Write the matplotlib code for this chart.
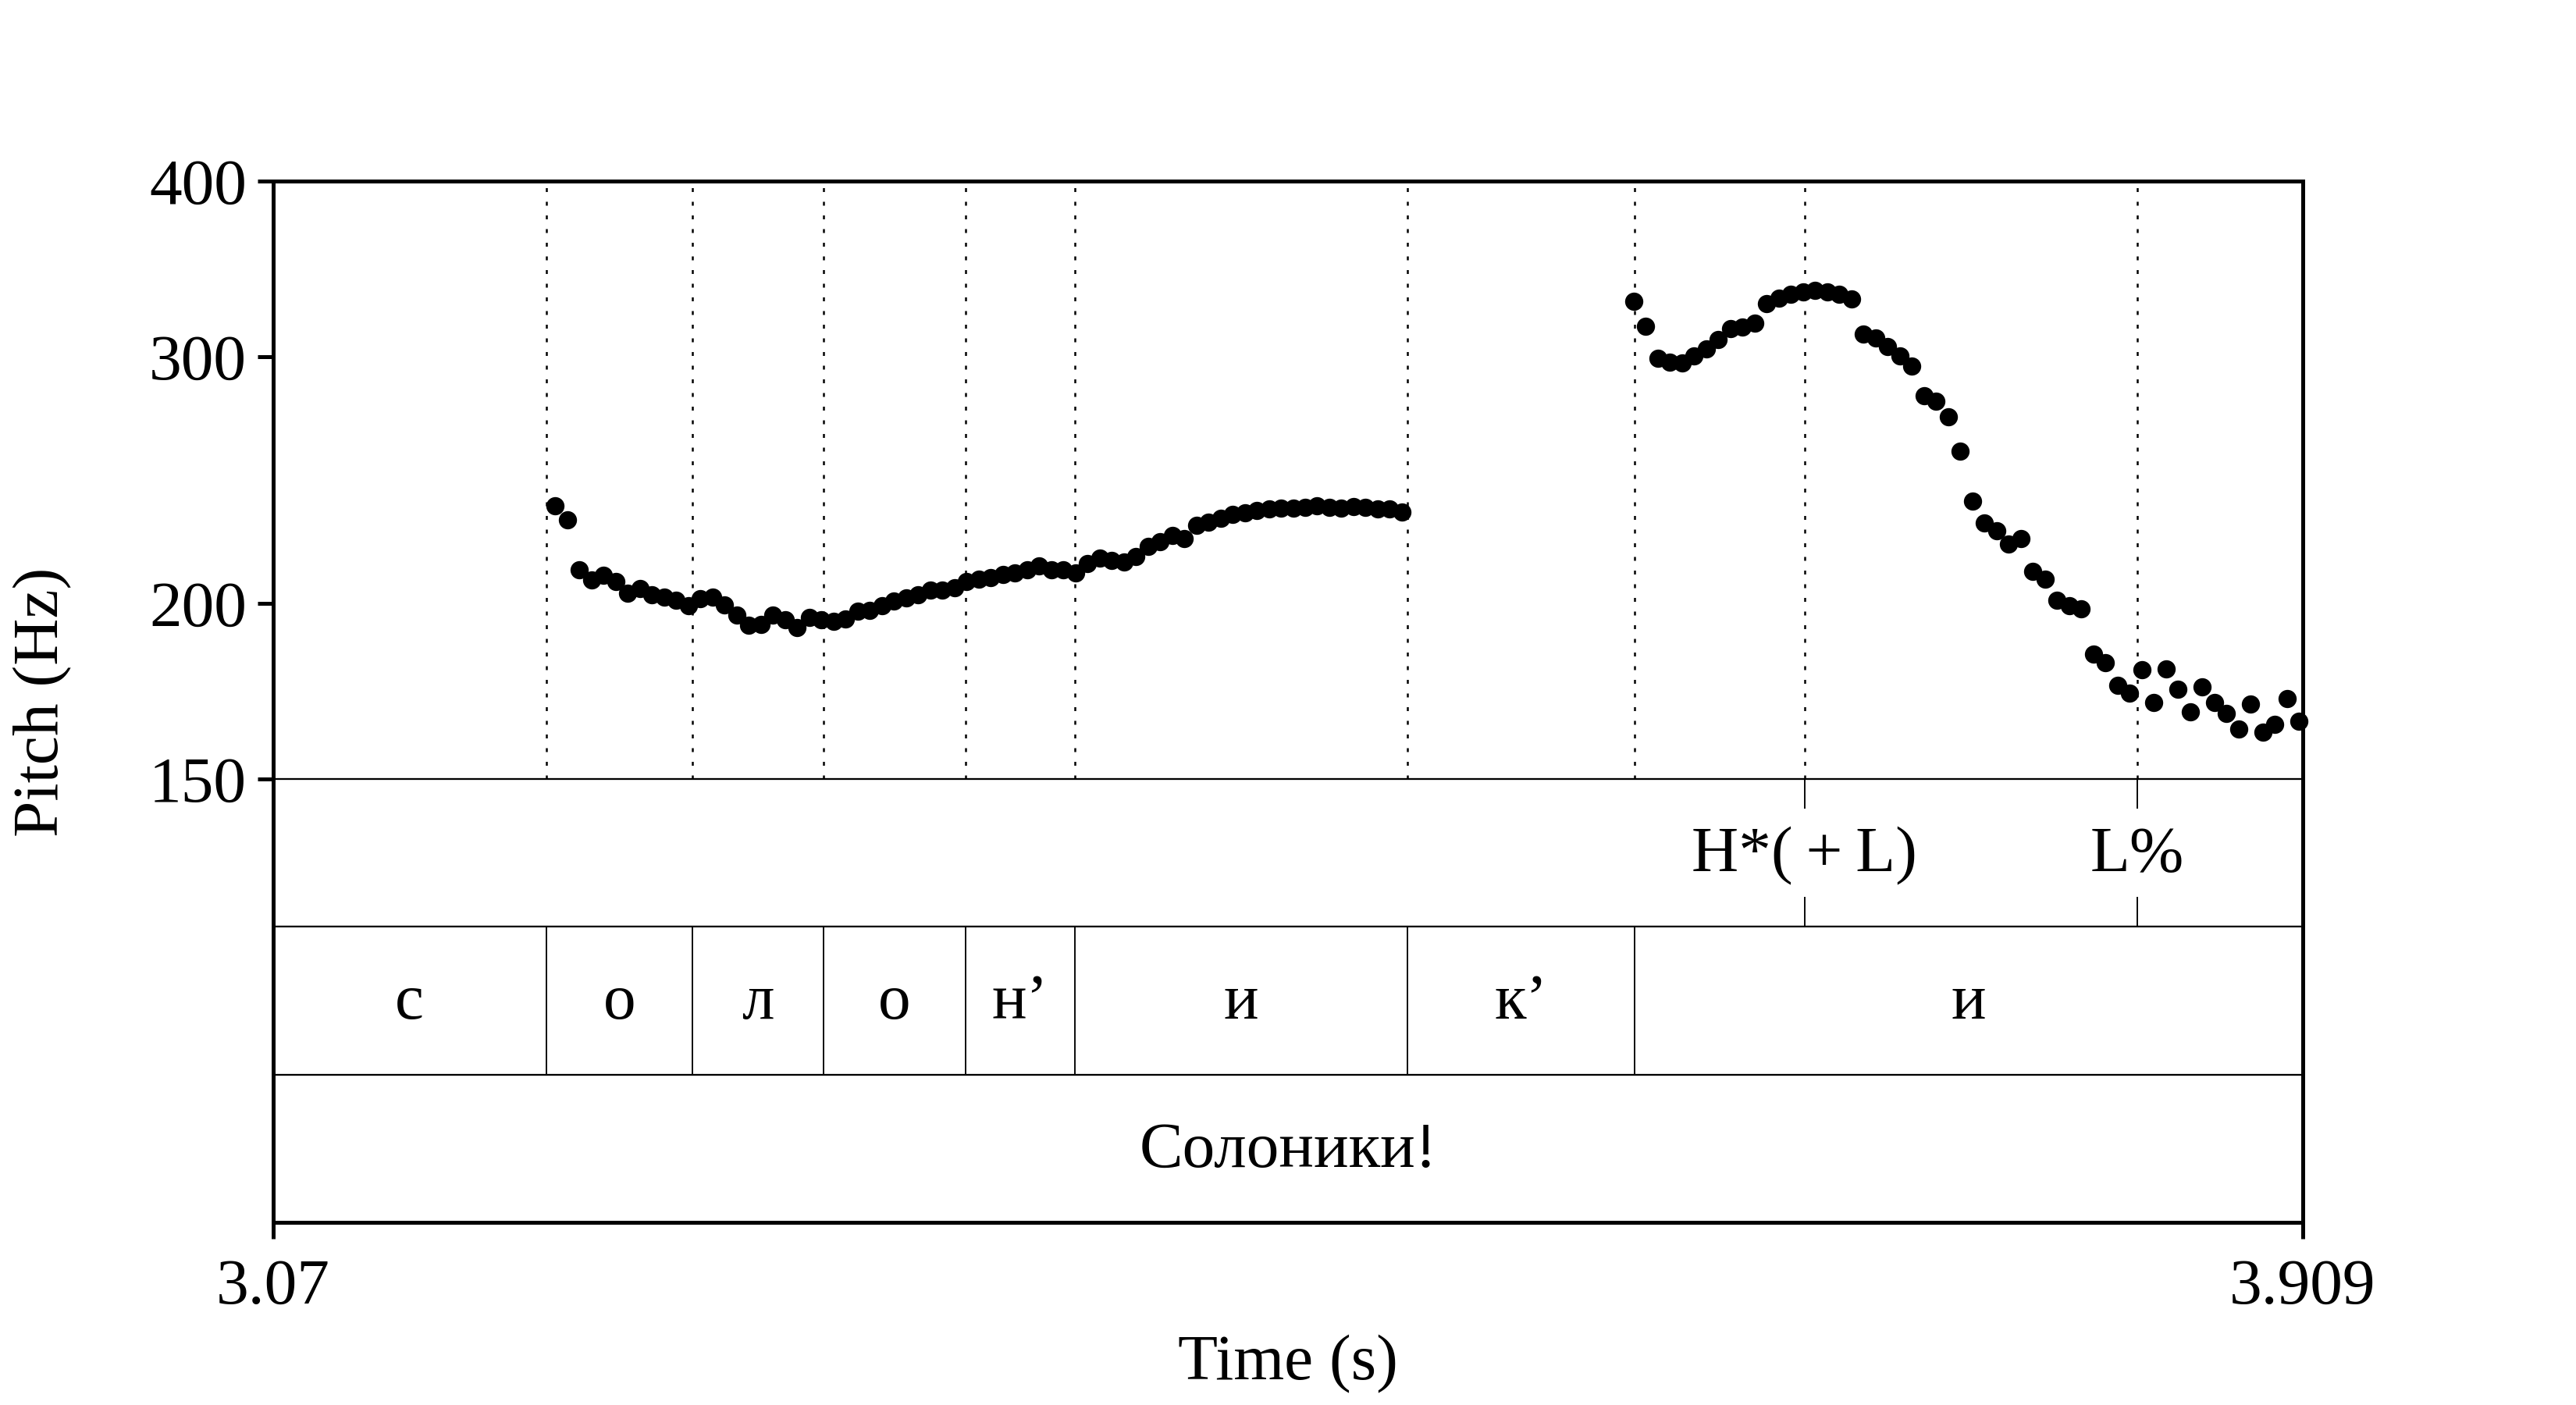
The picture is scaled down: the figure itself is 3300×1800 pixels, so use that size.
import numpy as np
import matplotlib
matplotlib.use("Agg")
import matplotlib.pyplot as plt
from matplotlib.ticker import NullLocator

plt.rcParams['font.family'] = ['Liberation Serif', 'DejaVu Serif']
plt.rcParams['font.size'] = 20

# pitch track (Hz), one value every 5 ms, two voiced stretches
step = 0.005
t_start_1 = 3.1866
f0_1 = [234.9, 229.4, 211.4, 207.9, 209.5, 207.3, 203.5, 205.1, 202.9, 202.2,
        201.1, 199.2, 201.6, 202.2, 199.7, 196.2, 193.1, 193.2, 196.2, 194.8,
        192.4, 195.5, 194.8, 194.3, 195.0, 197.6, 197.9, 199.2, 200.8, 201.9,
        202.9, 204.6, 204.6, 205.3, 207.5, 208.1, 208.6, 209.7, 210.4, 211.4,
        212.9, 211.4, 211.4, 210.3, 213.5, 215.4, 214.6, 214.0, 216.0, 219.8,
        221.5, 223.7, 222.5, 227.3, 228.5, 230.0, 231.4, 232.0, 232.9, 233.7,
        233.9, 234.0, 234.3, 234.9, 234.1, 234.0, 234.5, 234.1, 233.7, 233.7,
        232.4]
t_start_2 = 3.6324
f0_2 = [328.3, 315.4, 299.1, 297.3, 297.0, 300.1, 303.6, 308.3, 314.1, 314.9,
        316.9, 327.3, 330.2, 332.1, 333.4, 334.3, 333.4, 332.1, 329.8, 311.3,
        309.2, 304.8, 300.4, 295.2, 281.1, 278.6, 271.8, 256.7, 236.6, 228.3,
        225.5, 220.6, 222.5, 210.9, 208.2, 201.2, 199.2, 198.2, 184.0, 181.5,
        175.0, 172.6, 179.5, 170.0, 179.7, 173.9, 167.4, 174.4, 170.0, 167.0,
        162.9, 169.7, 161.9, 164.1, 171.2, 165.0]

t_min, t_max = 3.07, 3.909
y_ticks = [150, 200, 300, 400]

# tiers
tone_times = [3.7031, 3.8406]
tones = ['H*(\u2009+\u2009L)', 'L%']
phone_bounds = [3.07, 3.1828, 3.2433, 3.2975, 3.3561, 3.4014, 3.5388, 3.6327, 3.909]
phones = ['с', 'о', 'л', 'о', 'н\u2019', 'и', 'к\u2019', 'и']
word = 'Солоники!'

t1 = t_start_1 + step * np.arange(len(f0_1))
t2 = t_start_2 + step * np.arange(len(f0_2))

fig = plt.figure(figsize=(11, 6), dpi=300)
left, width = 350 / 3300, 2600 / 3300
ax = fig.add_axes([left, 802 / 1800, width, 766 / 1800])
tier = fig.add_axes([left, 234 / 1800, width, 568 / 1800])

# pitch panel
for t in phone_bounds[1:-1] + tone_times:
    ax.axvline(t, color='black', lw=0.6, ls=(0, (2, 5)), zorder=1)
ax.plot(t1, f0_1, 'o', color='black', ms=5.6, mew=0, zorder=3, clip_on=False)
ax.plot(t2, f0_2, 'o', color='black', ms=5.6, mew=0, zorder=3, clip_on=False)
ax.set_yscale('log')
ax.set_ylim(150, 400)
ax.set_xlim(t_min, t_max)
ax.set_yticks(y_ticks)
ax.set_yticklabels([str(v) for v in y_ticks])
ax.yaxis.set_minor_locator(NullLocator())
ax.tick_params(axis='y', direction='out', length=4.8, width=1.2, pad=3.4)
ax.tick_params(axis='x', bottom=False, labelbottom=False)
ax.spines['bottom'].set_visible(False)
for s in ['left', 'top', 'right']:
    ax.spines[s].set_linewidth(1.2)

# annotation tiers: tones (top), phones (middle), word (bottom)
tier.set_xlim(t_min, t_max)
tier.set_ylim(0, 3)
tier.set_yticks([])
for s in ['left', 'right', 'bottom']:
    tier.spines[s].set_linewidth(1.2)
tier.spines['top'].set_linewidth(0.55)
tier.axhline(1, color='black', lw=0.55)
tier.axhline(2, color='black', lw=0.55)

base = 0.124
for t, lab in zip(tone_times, tones):
    tier.vlines(t, 2.8, 3, color='black', lw=0.45)
    tier.vlines(t, 2, 2.2, color='black', lw=0.45)
    tier.text(t, 2.5 - base, lab, ha='center', va='baseline')

tier.vlines(phone_bounds[1:-1], 1, 2, color='black', lw=0.45)
for a, b, lab in zip(phone_bounds[:-1], phone_bounds[1:], phones):
    tier.text((a + b) / 2, 1.5 - base, lab, ha='center', va='baseline')

tier.text((t_min + t_max) / 2, 0.5 - base, word, ha='center', va='baseline')

tier.set_xticks([t_min, t_max])
tier.set_xticklabels(['3.07', '3.909'])
tier.tick_params(axis='x', direction='out', length=5, width=1.2, pad=6)

fig.text(55 / 3300, 1 - 899 / 1800, 'Pitch (Hz)', rotation=90, ha='center', va='center')
fig.text(0.5, 1 - 1767 / 1800, 'Time (s)', ha='center', va='baseline')

fig.savefig('out.png', dpi=300)
